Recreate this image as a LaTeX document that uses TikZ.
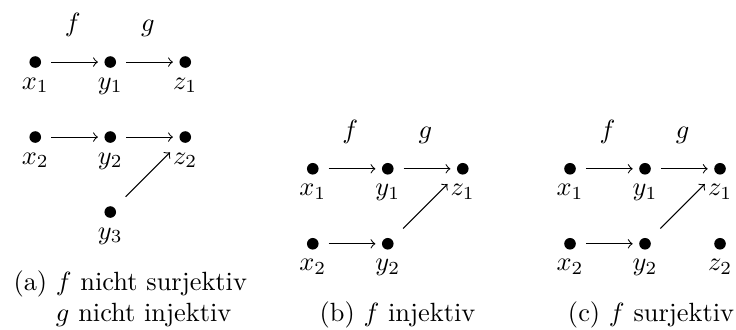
\documentclass[tikz,border=0pt]{standalone}
\usetikzlibrary{positioning}
\begin{document}
\begin{tikzpicture}[
  node distance=1cm and 1cm, on grid,
  pt/.style={circle, fill, inner sep=0pt, minimum size=4.4pt},
  arr/.style={->, shorten <=3.6pt, shorten >=2.3pt},
  diag/.style={->, shorten <=5.8pt, shorten >=5.8pt},
  fn/.style={above=6pt},
  captxt/.style={inner sep=0pt}
]
\useasboundingbox (0,0) rectangle (9.813,-4.387);
% (a) f nicht surjektiv, g nicht injektiv
\node[pt, label=below:$x_1$] (ax1) at (0.47,-0.827) {};
\node[pt, right=of ax1, label=below:$y_1$] (ay1) {};
\node[pt, right=of ay1, label=below:$z_1$] (az1) {};
\node[pt, below=of ax1, label=below:$x_2$] (ax2) {};
\node[pt, right=of ax2, label=below:$y_2$] (ay2) {};
\node[pt, right=of ay2, label=below:$z_2$] (az2) {};
\node[pt, below=of ay2, label=below:$y_3$] (ay3) {};
\draw[arr] (ax1) -- node[fn] (af) {$f$} (ay1);
\draw[arr] (ay1) -- node[fn] (ag) {$g$} (az1);
\draw[arr] (ax2) -- (ay2);
\draw[arr] (ay2) -- (az2);
\draw[diag] (ay3) -- (az2);
\node[captxt, anchor=base west] (acap) at (0.173,-3.867)
  {(a) \begin{tabular}[t]{@{}l@{}}$f$ nicht surjektiv\\$g$ nicht injektiv\end{tabular}};
% (b) f injektiv
\node[pt, label=below:$x_1$] (bx1) at (4.17,-2.25) {};
\node[pt, right=of bx1, label=below:$y_1$] (by1) {};
\node[pt, right=of by1, label=below:$z_1$] (bz1) {};
\node[pt, below=of bx1, label=below:$x_2$] (bx2) {};
\node[pt, right=of bx2, label=below:$y_2$] (by2) {};
\draw[arr] (bx1) -- node[fn] (bf) {$f$} (by1);
\draw[arr] (by1) -- node[fn] (bg) {$g$} (bz1);
\draw[arr] (bx2) -- (by2);
\draw[diag] (by2) -- (bz1);
\node[captxt, anchor=base] (bcap) at (5.3,-4.28) {(b) $f$ injektiv};
% (c) f surjektiv
\node[pt, label=below:$x_1$] (cx1) at (7.6,-2.25) {};
\node[pt, right=of cx1, label=below:$y_1$] (cy1) {};
\node[pt, right=of cy1, label=below:$z_1$] (cz1) {};
\node[pt, below=of cx1, label=below:$x_2$] (cx2) {};
\node[pt, right=of cx2, label=below:$y_2$] (cy2) {};
\node[pt, right=of cy2, label=below:$z_2$] (cz2) {};
\draw[arr] (cx1) -- node[fn] (cf) {$f$} (cy1);
\draw[arr] (cy1) -- node[fn] (cg) {$g$} (cz1);
\draw[arr] (cx2) -- (cy2);
\draw[diag] (cy2) -- (cz1);
\node[captxt, anchor=base] (ccap) at (8.68,-4.28) {(c) $f$ surjektiv};
\end{tikzpicture}
\end{document}
